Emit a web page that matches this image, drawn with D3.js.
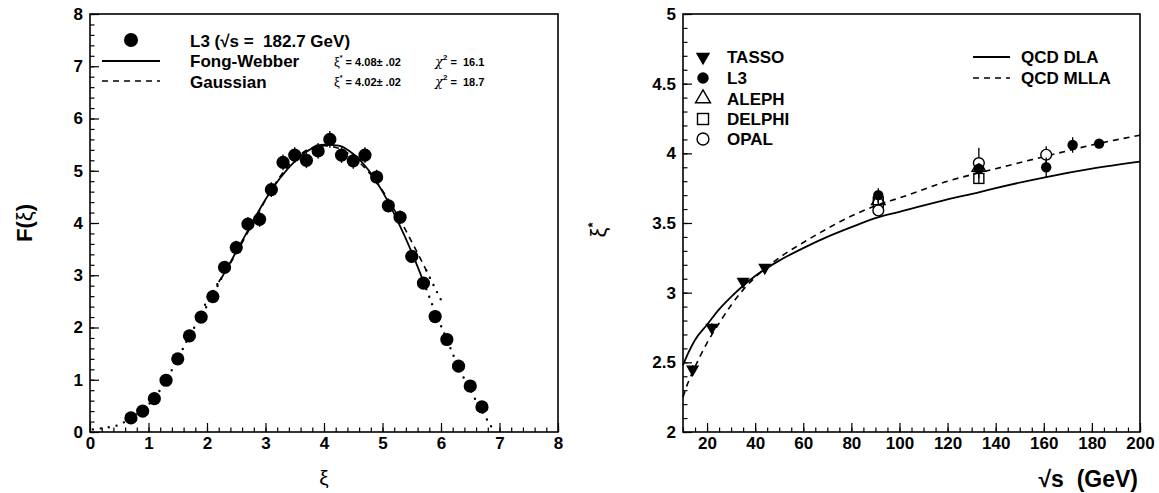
<!DOCTYPE html>
<html>
<head>
<meta charset="utf-8">
<script src="https://cdn.jsdelivr.net/npm/d3@7"></script>
<style>
  html, body { margin: 0; padding: 0; background: #fff; }
  svg { display: block; font-family: "Liberation Sans", Arial, sans-serif; }
</style>
</head>
<body>
<div id="chart"></div>
<script>
// Left panel: L3 xi distribution at 182.7 GeV
const xiValues = [0.7, 0.9, 1.1, 1.3, 1.5, 1.7, 1.9, 2.1, 2.3, 2.5, 2.7, 2.9, 3.1, 3.3, 3.5, 3.7,
  3.9, 4.1, 4.3, 4.5, 4.7, 4.9, 5.1, 5.3, 5.5, 5.7, 5.9, 6.1, 6.3, 6.5, 6.7]
const fValues = [0.27, 0.40, 0.64, 0.99, 1.40, 1.84, 2.20, 2.59, 3.15, 3.53, 3.98, 4.07, 4.64, 5.16,
  5.30, 5.20, 5.38, 5.60, 5.30, 5.19, 5.30, 4.88, 4.33, 4.11, 3.36, 2.85, 2.21, 1.77, 1.26, 0.88, 0.48]
const fErrors = [0.04, 0.05, 0.06, 0.07, 0.08, 0.09, 0.10, 0.11, 0.12, 0.13, 0.13, 0.14, 0.14, 0.15,
  0.15, 0.15, 0.15, 0.16, 0.15, 0.15, 0.15, 0.14, 0.13, 0.13, 0.12, 0.11, 0.10, 0.09, 0.08, 0.06, 0.05]

// fit curves (fit range + dotted extrapolation)
const fwCurve = [[2.25, 2.95], [2.5, 3.45], [2.75, 3.96], [3.0, 4.45], [3.25, 4.86], [3.5, 5.18],
  [3.75, 5.40], [4.0, 5.50], [4.25, 5.48], [4.5, 5.32], [4.75, 5.03], [5.0, 4.60], [5.25, 4.06],
  [5.5, 3.44], [5.7, 2.88]]
const fwLeftExt = [[0.05, 0.05], [0.25, 0.08], [0.5, 0.14], [0.7, 0.27], [0.9, 0.42], [1.1, 0.65],
  [1.3, 0.99], [1.5, 1.40], [1.7, 1.84], [1.9, 2.22], [2.1, 2.62], [2.25, 2.95]]
const fwRightExt = [[5.7, 2.88], [5.9, 2.30], [6.1, 1.77], [6.3, 1.24], [6.5, 0.80], [6.7, 0.40], [6.9, 0.03]]
const gaussCurve = [[2.2, 2.87], [2.5, 3.42], [2.75, 3.93], [3.0, 4.44], [3.25, 4.89], [3.5, 5.22],
  [3.75, 5.42], [4.0, 5.48], [4.25, 5.43], [4.5, 5.26], [4.75, 4.99], [5.0, 4.62], [5.25, 4.16],
  [5.5, 3.64], [5.75, 3.09]]
const gaussLeftExt = [[1.9, 2.30], [2.05, 2.60], [2.2, 2.87]]
const gaussRightExt = [[5.75, 3.09], [5.9, 2.75], [6.05, 2.42]]

// Right panel: xi* vs sqrt(s)
const tassoE = [14, 22, 35, 44]
const tassoXi = [2.45, 2.75, 3.08, 3.18]
const tassoErr = [0.03, 0.03, 0.02, 0.02]
const l3E = [91.2, 133, 161, 172, 183]
const l3Xi = [3.70, 3.89, 3.90, 4.06, 4.07]
const l3Err = [0.05, 0.04, 0.07, 0.055, 0.02]
const alephE = [91.2, 133]
const alephXi = [3.66, 3.90]
const alephErr = [0.02, 0.05]
const delphiE = [91.2, 133]
const delphiXi = [3.65, 3.82]
const delphiErr = [0.02, 0.04]
const opalE = [91.2, 133, 161]
const opalXi = [3.59, 3.93, 3.99]
const opalErr = [0.02, 0.11, 0.06]

const dlaE = [10, 12, 15, 20, 25, 30, 35, 40, 50, 60, 70, 80, 91, 100, 120, 133, 140, 161, 180, 200]
const dlaXi = [2.48, 2.56, 2.66, 2.77, 2.88, 2.97, 3.05, 3.12, 3.23, 3.32, 3.40, 3.47, 3.54, 3.58,
  3.67, 3.72, 3.75, 3.83, 3.89, 3.94]
const mllaE = [10, 12, 14, 17, 20, 25, 30, 35, 40, 50, 60, 70, 80, 91, 100, 120, 133, 140, 161, 180, 200]
const mllaXi = [2.25, 2.35, 2.43, 2.54, 2.64, 2.78, 2.91, 3.02, 3.11, 3.25, 3.36, 3.46, 3.55, 3.63,
  3.68, 3.80, 3.86, 3.89, 3.98, 4.06, 4.13]

const legendNames = ["TASSO", "L3", "ALEPH", "DELPHI", "OPAL"]
const theoryNames = ["QCD DLA", "QCD MLLA"]

const W = 1159, H = 493
const svg = d3.select("#chart").append("svg").attr("width", W).attr("height", H)

const tickFont = "17px"

function frameAxes(g, x, y, xMajor, xMinor, yMajor, yMinor, xFmt, yFmt) {
  const [xa, xb] = x.range()
  const [ya, yb] = y.range()
  g.append("g").attr("transform", `translate(0,${ya})`)
    .call(d3.axisBottom(x).tickValues(xMinor).tickSize(-4.5).tickFormat(""))
  g.append("g").attr("transform", `translate(0,${ya})`)
    .call(d3.axisBottom(x).tickValues(xMajor).tickSize(-9).tickPadding(5).tickFormat(xFmt))
  g.append("g").attr("transform", `translate(${xa},0)`)
    .call(d3.axisLeft(y).tickValues(yMinor).tickSize(-4.5).tickFormat(""))
  g.append("g").attr("transform", `translate(${xa},0)`)
    .call(d3.axisLeft(y).tickValues(yMajor).tickSize(-9).tickPadding(7).tickFormat(yFmt))
  g.selectAll(".domain").remove()
  g.selectAll(".tick line").attr("stroke", "#000").attr("stroke-width", 1.2)
  g.selectAll(".tick text").attr("fill", "#000").style("font-size", tickFont).style("font-weight", "bold")
    .style("font-family", "Liberation Sans, Arial, sans-serif")
  g.append("rect").attr("x", xa).attr("y", yb).attr("width", xb - xa).attr("height", ya - yb)
    .attr("fill", "none").attr("stroke", "#000").attr("stroke-width", 1.6)
}

// ---------- left panel ----------
const xL = d3.scaleLinear().domain([0, 8]).range([90, 558])
const yL = d3.scaleLinear().domain([0, 8]).range([432, 14])
const gL = svg.append("g")

const lineL = d3.line().x(d => xL(d[0])).y(d => yL(d[1])).curve(d3.curveMonotoneX)

;[fwLeftExt, fwRightExt, gaussLeftExt, gaussRightExt].forEach(c => {
  gL.append("path").datum(c).attr("d", lineL).attr("fill", "none").attr("stroke", "#000")
    .attr("stroke-width", 2.4).attr("stroke-linecap", "round").attr("stroke-dasharray", "0 8")
})
gL.append("path").datum(fwCurve).attr("d", lineL).attr("fill", "none").attr("stroke", "#000").attr("stroke-width", 1.8)
gL.append("path").datum(gaussCurve).attr("d", lineL).attr("fill", "none").attr("stroke", "#000")
  .attr("stroke-width", 1.6).attr("stroke-dasharray", "6 5")

const ptsL = xiValues.map((v, i) => ({ x: v, y: fValues[i], e: fErrors[i] }))
gL.selectAll(".eb").data(ptsL).enter().append("line")
  .attr("x1", d => xL(d.x)).attr("x2", d => xL(d.x))
  .attr("y1", d => yL(d.y - d.e)).attr("y2", d => yL(d.y + d.e))
  .attr("stroke", "#000").attr("stroke-width", 1.3)
gL.selectAll(".pt").data(ptsL).enter().append("circle")
  .attr("cx", d => xL(d.x)).attr("cy", d => yL(d.y)).attr("r", 6.6).attr("fill", "#000")

frameAxes(gL, xL, yL, d3.range(0, 9, 1), d3.range(0, 8.01, 0.2), d3.range(0, 9, 1), d3.range(0, 8.01, 0.2),
  d3.format("d"), d3.format("d"))

// left legend
const legL = svg.append("g").style("font-weight", "bold").style("font-size", "17px")
legL.append("circle").attr("cx", 131).attr("cy", 40).attr("r", 7).attr("fill", "#000")
legL.append("text").attr("x", 190).attr("y", 47).attr("xml:space", "preserve").text("L3 (\u221As =  182.7 GeV)")
legL.append("line").attr("x1", 102).attr("x2", 160).attr("y1", 61).attr("y2", 61).attr("stroke", "#000").attr("stroke-width", 1.8)
legL.append("text").attr("x", 190).attr("y", 67).text("Fong-Webber")
legL.append("line").attr("x1", 102).attr("x2", 160).attr("y1", 81).attr("y2", 81).attr("stroke", "#000")
  .attr("stroke-width", 1.6).attr("stroke-dasharray", "6 5")
legL.append("text").attr("x", 190).attr("y", 88).text("Gaussian")

const fitInfo = [["4.08", "16.1", 66], ["4.02", "18.7", 86]]
fitInfo.forEach(([xs, chi, yy]) => {
  const t = legL.append("text").attr("x", 334).attr("y", yy).style("font-size", "11px").attr("xml:space", "preserve")
  t.append("tspan").style("font-weight", "normal").style("font-size", "13px").text("\u03BE")
  t.append("tspan").attr("dy", -6).style("font-size", "7px").text("*")
  t.append("tspan").attr("dy", 6).text(` = ${xs}\u00B1 .02`)
  const c = legL.append("text").attr("x", 435).attr("y", yy).style("font-size", "11px").attr("xml:space", "preserve")
  c.append("tspan").style("font-weight", "normal").style("font-style", "italic").style("font-size", "13px")
    .style("font-family", "DejaVu Serif, serif").text("\u03C7")
  c.append("tspan").attr("dy", -6).style("font-size", "8px").text("2")
  c.append("tspan").attr("dy", 6).text(` =  ${chi}`)
})

// left axis titles
svg.append("text").attr("transform", "translate(32,223) rotate(-90)").attr("text-anchor", "middle")
  .style("font-size", "22px").style("font-weight", "bold")
  .call(t => {
    t.append("tspan").text("F(")
    t.append("tspan").style("font-weight", "normal").text("\u03BE")
    t.append("tspan").text(")")
  })
svg.append("text").attr("x", 324).attr("y", 485).attr("text-anchor", "middle")
  .style("font-size", "21px").text("\u03BE")

// ---------- right panel ----------
const xR = d3.scaleLinear().domain([10, 200]).range([683, 1140])
const yR = d3.scaleLinear().domain([2, 5]).range([432, 14])
const gR = svg.append("g")

const lineR = d3.line().x(d => xR(d[0])).y(d => yR(d[1])).curve(d3.curveMonotoneX)
gR.append("path").datum(dlaE.map((e, i) => [e, dlaXi[i]])).attr("d", lineR)
  .attr("fill", "none").attr("stroke", "#000").attr("stroke-width", 1.8)
gR.append("path").datum(mllaE.map((e, i) => [e, mllaXi[i]])).attr("d", lineR)
  .attr("fill", "none").attr("stroke", "#000").attr("stroke-width", 1.6).attr("stroke-dasharray", "6 5")

function errorBars(E, V, Er) {
  E.forEach((e, i) => {
    gR.append("line").attr("x1", xR(e)).attr("x2", xR(e))
      .attr("y1", yR(V[i] - Er[i])).attr("y2", yR(V[i] + Er[i]))
      .attr("stroke", "#000").attr("stroke-width", 1.3)
  })
}
const triDown = d3.symbol().type(d3.symbolTriangle).size(75)
const triUp = d3.symbol().type(d3.symbolTriangle).size(80)

function marker(g, kind, cx, cy, s) {
  if (kind === "tasso") {
    g.append("path").attr("d", triDown).attr("transform", `translate(${cx},${cy}) rotate(180) scale(${s})`).attr("fill", "#000")
  } else if (kind === "l3") {
    g.append("circle").attr("cx", cx).attr("cy", cy).attr("r", 5.2 * s).attr("fill", "#000")
  } else if (kind === "aleph") {
    g.append("path").attr("d", triUp).attr("transform", `translate(${cx},${cy}) scale(${s})`)
      .attr("fill", "none").attr("stroke", "#000").attr("stroke-width", 1.4 / s)
  } else if (kind === "delphi") {
    g.append("rect").attr("x", cx - 5 * s).attr("y", cy - 5 * s).attr("width", 10 * s).attr("height", 10 * s)
      .attr("fill", "none").attr("stroke", "#000").attr("stroke-width", 1.4)
  } else {
    g.append("circle").attr("cx", cx).attr("cy", cy).attr("r", 5.4 * s)
      .attr("fill", "#fff").attr("stroke", "#000").attr("stroke-width", 1.4)
  }
}

function drawSet(E, V, Er, kind) {
  errorBars(E, V, Er)
  E.forEach((e, i) => marker(gR, kind, xR(e), yR(V[i]), 1))
}
drawSet(tassoE, tassoXi, tassoErr, "tasso")
drawSet(delphiE, delphiXi, delphiErr, "delphi")
drawSet(alephE, alephXi, alephErr, "aleph")
drawSet(opalE, opalXi, opalErr, "opal")
drawSet(l3E, l3Xi, l3Err, "l3")

frameAxes(gR, xR, yR, d3.range(20, 201, 20), d3.range(10, 200.1, 5), d3.range(2, 5.01, 0.5), d3.range(2, 5.001, 0.1),
  d3.format("d"), d3.format("~g"))

// right legend
const legR = svg.append("g").style("font-weight", "bold").style("font-size", "17px")
const legKinds = ["tasso", "l3", "aleph", "delphi", "opal"]
const legRows = [57, 78, 98.5, 119, 139]
legendNames.forEach((name, i) => {
  marker(legR, legKinds[i], 703, legRows[i], 1.1)
  legR.append("text").attr("x", 727).attr("y", legRows[i] + 6).text(name)
})
legR.append("line").attr("x1", 973).attr("x2", 1010).attr("y1", 57).attr("y2", 57).attr("stroke", "#000").attr("stroke-width", 1.8)
legR.append("text").attr("x", 1021).attr("y", 63).text(theoryNames[0])
legR.append("line").attr("x1", 973).attr("x2", 1010).attr("y1", 78).attr("y2", 78).attr("stroke", "#000")
  .attr("stroke-width", 1.6).attr("stroke-dasharray", "6 5")
legR.append("text").attr("x", 1021).attr("y", 84).text(theoryNames[1])

// right axis titles
svg.append("text").attr("transform", "translate(606,230) rotate(-90)").attr("text-anchor", "middle")
  .style("font-size", "22px")
  .call(t => {
    t.append("tspan").text("\u03BE")
    t.append("tspan").attr("dy", -9).style("font-size", "13px").style("font-weight", "bold").text("*")
  })
svg.append("text").attr("x", 1138).attr("y", 487).attr("text-anchor", "end").attr("xml:space", "preserve")
  .style("font-size", "23px").style("font-weight", "bold").text("\u221As  (GeV)")
</script>
</body>
</html>
